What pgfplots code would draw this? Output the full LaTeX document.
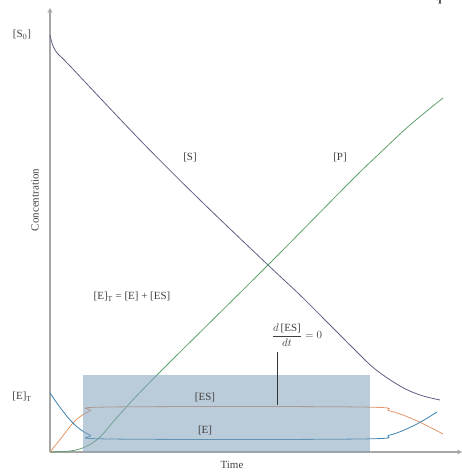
\documentclass[border=0pt]{standalone}
\usepackage{amsmath}
\usepackage{pgfplots}
\pgfplotsset{compat=1.18}
\usepackage{fontspec}
\setmainfont{Liberation Serif}
\definecolor{scol}{RGB}{95,95,130}
\definecolor{pcol}{RGB}{95,160,110}
\definecolor{escol}{RGB}{225,150,105}
\definecolor{ecol}{RGB}{60,130,175}
\definecolor{boxcol}{RGB}{130,160,185}
\begin{document}
\begin{tikzpicture}
\path[use as bounding box] (-50bp,-21bp) rectangle (412bp,452bp);
\begin{axis}[
  scale only axis, width=412bp, height=444bp,
  xmin=0, xmax=412, ymin=0, ymax=444,
  axis x line=bottom, axis y line=left,
  axis line style={draw=gray!70, line width=1.2pt, -stealth},
  xtick=\empty, ytick=\empty,
  clip=false,
  every axis plot/.append style={line width=0.8pt},
  font=\fontsize{11}{13}\selectfont,
]
\addplot[scol, smooth, tension=0.6] coordinates {(0,417)(3,406)(8,398)(20,386)(90,312)(150,252)(218,187)(250,157)(280,127)(305,102)(325,83)(350,66)(370,57)(390,52)};
\addplot[pcol, smooth, tension=0.6] coordinates {(0,0)(20,1)(35,5)(50,15)(70,38)(107,77)(218,187)(300,270)(330,299)(360,327)(393,354)};
\addplot[escol, smooth, tension=0.6] coordinates {(0,0)(12,15)(25,31)(40,41)(60,45)(310,45)(340,41)(365,32)(393,18)};
\addplot[ecol, smooth, tension=0.6] coordinates {(0,59)(12,42)(25,27)(40,17)(60,13)(310,13)(340,17)(365,27)(387,40)};
\fill[boxcol, fill opacity=0.55] (axis cs:33,0) rectangle (axis cs:320,77);
\draw[black!80, line width=0.7pt] (axis cs:227,100) -- (axis cs:227,47);
\node[text=black!75] at (axis cs:140,295) {[S]};
\node[text=black!75] at (axis cs:290,295) {[P]};
\node[text=black!75] at (axis cs:82,155) {[E]$_\mathrm{T}$ = [E] + [ES]};
\node[text=black!75] at (axis cs:247,117) {$\dfrac{d\,\textrm{[ES]}}{dt} = 0$};
\node[text=black!75] at (axis cs:155,55) {[ES]};
\node[text=black!75] at (axis cs:155,22) {[E]};
\end{axis}
\node[text=black!75, font=\fontsize{11}{13}\selectfont] at (-28bp,417bp) {[S$_0$]};
\node[text=black!75, font=\fontsize{11}{13}\selectfont] at (-28bp,55bp) {[E]$_\mathrm{T}$};
\node[text=black!75, rotate=90, font=\fontsize{11}{13}\selectfont] at (-15bp,252bp) {Concentration};
\node[text=black!75, font=\fontsize{11}{13}\selectfont] at (182bp,-13bp) {Time};
\node[anchor=base east, font=\fontsize{16}{18}\selectfont, inner sep=0pt] at (392bp,451bp) {$-$ Eq};
\end{tikzpicture}
\end{document}
